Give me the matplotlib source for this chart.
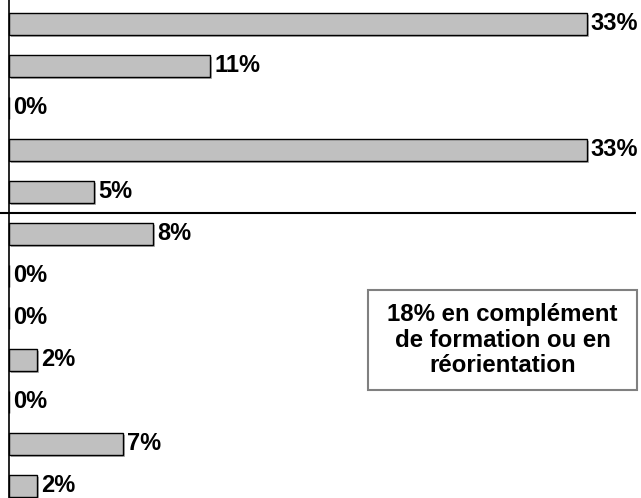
import matplotlib
matplotlib.use("Agg")
import matplotlib.pyplot as plt
import matplotlib.patheffects as pe
from matplotlib.patches import Rectangle

plt.rcParams['font.family'] = ['Liberation Sans', 'DejaVu Sans']

# Data (top to bottom)
values = [33.0, 11.5, 0, 33.0, 4.85, 8.25, 0, 0, 1.6, 0, 6.5, 1.6]
labels = ["33%", "11%", "0%", "33%", "5%", "8%", "0%", "0%", "2%", "0%", "7%", "2%"]
box_text = "18% en complément\nde formation ou en\nréorientation"

W, H = 641, 498
fig = plt.figure(figsize=(W / 100, H / 100), dpi=100)
ax = fig.add_axes([0, 0, 1, 1])

px_per_unit = 17.5
x0_px = 9
ax.set_xlim(-x0_px / px_per_unit, (W - x0_px) / px_per_unit)
ax.set_ylim((H - 24) / 42, -24 / 42)

ypos = list(range(len(values)))
bars = ax.barh(ypos, values, height=0.53, color="#c0c0c0", edgecolor="black",
               linewidth=1.0, zorder=3)
for b in bars:
    b.set_path_effects([pe.SimplePatchShadow(offset=(1.5, -1.5), shadow_rgbFace="#a0a0a0", alpha=0.8),
                        pe.Normal()])

for y, v, lab in zip(ypos, values, labels):
    ax.annotate(lab, xy=(v, y), xytext=(3, 0), textcoords="offset points",
                ha="left", va="center", fontsize=17, fontweight="bold", color="black",
                zorder=4)

ax.axvline(0, color="black", linewidth=1.2, zorder=5)
ax.hlines(4.5, -x0_px / px_per_unit, (636 - x0_px) / px_per_unit, color="black",
          linewidth=1.5, zorder=5)

ax.axis("off")

# Text box
bx0, bx1, by0, by1 = 368, 637, 290, 390
fig.patches.append(Rectangle((bx0 / W, 1 - by1 / H), (bx1 - bx0) / W, (by1 - by0) / H,
                             transform=fig.transFigure, facecolor="white",
                             edgecolor="#808080", linewidth=1.5, zorder=6))
fig.text((bx0 + bx1) / 2 / W, 1 - (by0 + by1) / 2 / H, box_text, ha="center", va="center",
         fontsize=17.3, fontweight="bold", linespacing=1.15, zorder=7)

fig.savefig("out.png", dpi=100)
